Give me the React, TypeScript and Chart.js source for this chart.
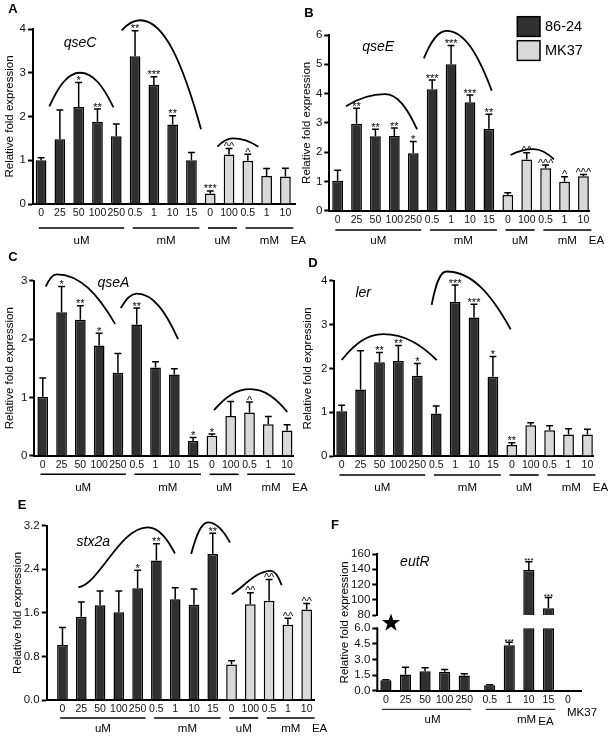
import React, { useEffect, useRef } from 'react';
import { Chart, registerables } from 'chart.js';

Chart.register(...registerables);

const FONT = '"Liberation Sans", Arial, Helvetica, sans-serif';
Chart.defaults.font.family = FONT;
Chart.defaults.color = '#111';

const DARK = '#303030';
const LIGHT = '#d9d9d9';
const INK = '#000';

// ---------------- data ----------------
const SERIES = ['86-24', 'MK37'];
const Y_TITLE = 'Relative fold expression';
const CATS_WT = ['0', '25', '50', '100', '250', '0.5', '1', '10', '15'];
const CATS_MK = ['0', '100', '0.5', '1', '10'];
const GROUPS = [
  { label: 'uM', from: 0, to: 4 },
  { label: 'mM', from: 5, to: 8 },
  { label: 'uM', from: 9, to: 10 },
  { label: 'mM', from: 11, to: 13 },
];
const END_LABEL = 'EA';

// A  qseC
const A_GENE = 'qseC';
const A_WT = [1.0, 1.48, 2.22, 1.88, 1.55, 3.38, 2.72, 1.82, 1.0];
const A_WT_ERR = [0.06, 0.67, 0.56, 0.29, 0.28, 0.58, 0.19, 0.2, 0.18];
const A_WT_SIG = ['', '', '*', '**', '', '**', '***', '**', ''];
const A_MK = [0.24, 1.13, 0.99, 0.64, 0.63];
const A_MK_ERR = [0.06, 0.14, 0.15, 0.17, 0.19];
const A_MK_SIG = ['***', '^^', '^', '', ''];
const A_Y_TICKS = [0, 1, 2, 3, 4];
const A_CURVES = [[0.44, 2.23, 2.07, 3.0, 3.85, 2.21, 0.6], [4.29, 3.97, 5.27, 4.2, 8.51, 1.71, 0.6], [9.38, 1.31, 10.21, 1.5, 11.56, 1.31, 0.6]];
const A_GENE_AT = [2.07, 3.68];

// B  qseE
const B_GENE = 'qseE';
const B_WT = [1.02, 2.97, 2.54, 2.55, 1.96, 4.15, 5.0, 3.7, 2.8];
const B_WT_ERR = [0.36, 0.53, 0.24, 0.27, 0.4, 0.31, 0.64, 0.25, 0.49];
const B_WT_SIG = ['', '**', '**', '**', '*', '***', '***', '***', '**'];
const B_MK = [0.54, 1.75, 1.45, 0.99, 1.18];
const B_MK_ERR = [0.07, 0.23, 0.11, 0.17, 0.06];
const B_MK_SIG = ['', '^^', '^^^', '^', '^^^'];
const B_Y_TICKS = [0, 1, 2, 3, 4, 5, 6];
const B_CURVES = [[0.44, 3.57, 2.5, 3.98, 4.2, 2.78, 0.6], [4.56, 5.2, 5.76, 6.14, 8.15, 4.1, 0.6], [9.15, 1.9, 10.35, 2.1, 11.44, 1.75, 0.6]];
const B_GENE_AT = [2.14, 5.6];

// C  qseA
const C_GENE = 'qseA';
const C_WT = [1.01, 2.46, 2.33, 1.89, 1.42, 2.25, 1.51, 1.39, 0.25];
const C_WT_ERR = [0.32, 0.44, 0.24, 0.21, 0.33, 0.28, 0.1, 0.1, 0.06];
const C_WT_SIG = ['', '*', '**', '*', '', '**', '', '', '*'];
const C_MK = [0.34, 0.68, 0.74, 0.54, 0.43];
const C_MK_ERR = [0.03, 0.25, 0.18, 0.13, 0.1];
const C_MK_SIG = ['*', '', '^', '', ''];
const C_Y_TICKS = [0, 1, 2, 3];
const C_CURVES = [[0.16, 2.9, 0.74, 3.11, 3.85, 2.26, 0.6], [4.15, 2.53, 5.0, 2.78, 7.2, 2.0, 0.6], [9.11, 0.78, 11.03, 1.14, 13.01, 0.75, 0.6]];
const C_GENE_AT = [3.76, 2.96];

// D  ler
const D_GENE = 'ler';
const D_WT = [1.02, 1.52, 2.14, 2.17, 1.83, 0.97, 3.52, 3.16, 1.81];
const D_WT_ERR = [0.14, 0.88, 0.22, 0.35, 0.28, 0.17, 0.38, 0.3, 0.46];
const D_WT_SIG = ['', '', '**', '**', '*', '', '***', '***', '*'];
const D_MK = [0.25, 0.7, 0.59, 0.49, 0.49];
const D_MK_ERR = [0.05, 0.06, 0.1, 0.13, 0.12];
const D_MK_SIG = ['**', '', '', '', ''];
const D_Y_TICKS = [0, 1, 2, 3, 4];
const D_CURVES = [[0.0, 2.19, 2.2, 2.78, 5.03, 2.19, 0.6], [4.76, 3.45, 5.55, 4.21, 8.94, 2.89, 0.7]];
const D_GENE_AT = [1.14, 3.71];

// E  stx2a
const E_GENE = 'stx2a';
const E_WT = [1.01, 1.53, 1.74, 1.61, 2.05, 2.56, 1.85, 1.75, 2.68];
const E_WT_ERR = [0.32, 0.27, 0.26, 0.39, 0.33, 0.31, 0.21, 0.29, 0.38];
const E_WT_SIG = ['', '', '', '', '*', '**', '', '', '**'];
const E_MK = [0.65, 1.76, 1.82, 1.38, 1.66];
const E_MK_ERR = [0.07, 0.21, 0.39, 0.12, 0.11];
const E_MK_SIG = ['', '^^', '^^', '^^', '^^'];
const E_Y_TICKS = [0, 0.8, 1.6, 2.4, 3.2];
const E_CURVES = [[0.85, 2.07, 4.53, 3.17, 5.99, 2.69, 0.05], [6.85, 2.68, 7.75, 3.26, 8.92, 2.89, 0.6], [9.01, 1.94, 11.1, 2.37, 11.67, 2.11, 0.3]];
const E_GENE_AT = [1.64, 2.9];

// F  eutR (broken axis)
const F_GENE = 'eutR';
const F_CATS_WT = ['0', '25', '50', '100', '250', '0.5', '1', '10', '15'];
const F_CATS_MK = ['0'];
const F_WT = [1.0, 1.55, 1.88, 1.82, 1.45, 0.52, 4.37, 139, 89];
const F_WT_ERR = [0.05, 0.7, 0.33, 0.23, 0.18, 0.06, 0.3, 11, 14];
const F_WT_SIG = ['', '', '', '', '', '', '***', '***', '***'];
const F_MK = [0];
const F_LOW_TICKS = [0, 1.5, 3, 4.5, 6];
const F_HIGH_TICKS = [80, 100, 120, 140, 160];
const F_GROUPS = [
  { label: 'uM', from: 0, to: 4 },
  { label: 'mM', from: 5, to: 8 },
];
const F_MK_LABEL = 'MK37';
const F_GENE_AT = [1.48, 150];

// ---------------- layout (page px) ----------------
const Y_W = 30;
const X_H = 24;
const LAYOUT: any = {
  A: { cx: 0, cy: 0, cw: 320, ch: 248, l: 33, t: 29, r: 295, b: 204, xMin: -0.43, xMax: 13.51, letter: [13, 9], titleX: 10, lineY: 228, unitY: 240.5 },
  B: { cx: 290, cy: 0, cw: 318, ch: 250, l: 329.3, t: 35, r: 589.3, b: 210.7, xMin: -0.44, xMax: 13.31, letter: [309, 13], titleX: 306.7, lineY: 230, unitY: 241 },
  C: { cx: 0, cy: 245, cw: 320, ch: 250, l: 34.3, t: 280.7, r: 293.3, b: 455.7, xMin: -0.45, xMax: 13.33, letter: [13, 257], titleX: 10, lineY: 474.3, unitY: 488 },
  D: { cx: 290, cy: 245, cw: 318, ch: 250, l: 334.3, t: 280.7, r: 593.3, b: 456, xMin: -0.39, xMax: 13.31, letter: [313, 263], titleX: 308.3, lineY: 475, unitY: 488 },
  E: { cx: 0, cy: 492, cw: 340, ch: 246, l: 46.7, t: 525.7, r: 314, b: 700, xMin: -0.84, xMax: 13.39, letter: [22, 505], titleX: 18.3, lineY: 718, unitY: 728.5 },
};
const LAYOUT_F = {
  cx: 300, cy: 500, cw: 308, ch: 238, l: 377.3, t: 554, r: 581.7, b: 690.7, brk: 615, lowTopPx: 628.3,
  xMin: -0.44, xMax: 10.0, gapAfter: 5, gap: 0.3,
  letter: [335, 525], titleX: 345, lineY: 709.3, unitY: 719.5, ea: [546, 722], mk: [582, 713], star: [391, 623],
};
const LEGEND_B = { x: 517.3, y: [16.7, 40.7], w: 22.7, h: 19.7, textX: 545 };
const GROUP_EXT = [-0.12, 0.42];

// ---------------- helpers ----------------
function font(size: number, style = '', weight = '') {
  return `${style} ${weight} ${size}px ${FONT}`.trim();
}

function text(ctx: any, s: string, x: number, y: number, f: string, align = 'center', base = 'middle') {
  ctx.save();
  ctx.font = f;
  ctx.fillStyle = INK;
  ctx.textAlign = align;
  ctx.textBaseline = base;
  ctx.fillText(s, x, y);
  ctx.restore();
}

function drawCurve(ctx: any, xs: any, ys: any, c: number[]) {
  const S = { x: xs.getPixelForValue(c[0]), y: ys.getPixelForValue(c[1]) };
  const P = { x: xs.getPixelForValue(c[2]), y: ys.getPixelForValue(c[3]) };
  const E = { x: xs.getPixelForValue(c[4]), y: ys.getPixelForValue(c[5]) };
  const k = c[6] ?? 0.6;
  const dx = P.x - S.x, dy = P.y - S.y;
  const fx = E.x - P.x, fy = E.y - P.y;
  ctx.save();
  ctx.strokeStyle = INK;
  ctx.lineWidth = 1.8;
  ctx.beginPath();
  ctx.moveTo(S.x, S.y);
  ctx.bezierCurveTo(S.x + dx * 0.3, S.y + dy * k, P.x - dx * 0.4, P.y, P.x, P.y);
  ctx.bezierCurveTo(P.x + fx * 0.4, P.y, E.x - fx * 0.3, E.y - fy * 0.6, E.x, E.y);
  ctx.stroke();
  ctx.restore();
}

function drawErr(ctx: any, x: number, w: number, yTop: number, yErr: number, sig: string, sigSize: number) {
  ctx.save();
  ctx.strokeStyle = INK;
  ctx.lineWidth = 1.5;
  ctx.beginPath();
  ctx.moveTo(x, yTop);
  ctx.lineTo(x, yErr);
  ctx.moveTo(x - w * 0.32, yErr);
  ctx.lineTo(x + w * 0.32, yErr);
  ctx.stroke();
  ctx.restore();
  if (sig) text(ctx, sig, x, yErr + 1.5, font(sigSize), 'center', 'alphabetic');
}

function yTitle(ctx: any, x: number, yc: number) {
  ctx.save();
  ctx.translate(x, yc);
  ctx.rotate(-Math.PI / 2);
  text(ctx, Y_TITLE, 0, 0, font(11.5));
  ctx.restore();
}

function barStyle(color: string) {
  return { backgroundColor: color, borderColor: INK, borderWidth: 1.5, grouped: false, barPercentage: 0.57, categoryPercentage: 1 };
}

function yAxis(ticks: number[], decimals: number, extra: any = {}) {
  return {
    type: 'linear',
    min: ticks[0],
    max: ticks[ticks.length - 1],
    afterBuildTicks: (s: any) => { s.ticks = ticks.map((v) => ({ value: v })); },
    afterFit: (s: any) => { s.width = Y_W; s.paddingTop = 0; s.paddingBottom = 0; },
    ticks: { autoSkip: false, color: '#111', padding: 2, font: { size: 11.5 }, callback: (v: any) => Number(v).toFixed(decimals) },
    grid: { display: true, drawOnChartArea: false, drawTicks: true, tickLength: 5, tickWidth: 2, tickColor: INK },
    border: { display: true, color: INK, width: 2 },
    ...extra,
  };
}

function xAxis(labels: string[], pos: number[], xMin: number, xMax: number) {
  return {
    type: 'linear',
    min: xMin,
    max: xMax,
    offset: false,
    z: 1,
    afterBuildTicks: (s: any) => { s.ticks = pos.map((v) => ({ value: v })); },
    afterFit: (s: any) => { s.height = X_H; s.paddingLeft = 0; s.paddingRight = 0; },
    ticks: { autoSkip: false, maxRotation: 0, minRotation: 0, padding: 3, color: '#111', font: { size: 10.5 }, callback: (_v: any, i: number) => labels[i] },
    grid: { display: false, drawTicks: false },
    border: { display: true, color: INK, width: 2 },
  };
}

// ---------------- standard panels ----------------
function buildPanel(p: any) {
  const L = LAYOUT[p.letter];
  const labels = [...CATS_WT, ...CATS_MK];
  const pos = labels.map((_, i) => i);
  const n = CATS_WT.length;
  const padding = { left: L.l - L.cx - Y_W, top: L.t - L.cy, right: L.cx + L.cw - L.r, bottom: L.cy + L.ch - L.b - X_H };
  const decor = {
    id: 'decor' + p.letter,
    afterDatasetsDraw(chart: any) {
      const ctx = chart.ctx;
      const ys = chart.scales.y;
      const sets = [[p.wt, p.wtErr, p.wtSig], [p.mk, p.mkErr, p.mkSig]];
      sets.forEach(([vals, errs, sigs]: any, di: number) => {
        chart.getDatasetMeta(di).data.forEach((bar: any, i: number) => {
          drawErr(ctx, bar.x, bar.width, ys.getPixelForValue(vals[i]), ys.getPixelForValue(vals[i] + errs[i]), sigs[i], 11);
        });
      });
    },
    afterDraw(chart: any) {
      const ctx = chart.ctx;
      const xs = chart.scales.x, ys = chart.scales.y;
      const ca = chart.chartArea;
      p.curves.forEach((c: number[]) => drawCurve(ctx, xs, ys, c));
      text(ctx, p.gene, xs.getPixelForValue(p.geneAt[0]), ys.getPixelForValue(p.geneAt[1]), font(14, 'italic'));
      let lastEnd = 0;
      ctx.save();
      ctx.strokeStyle = INK;
      ctx.lineWidth = 1.6;
      GROUPS.forEach((g) => {
        const x0 = xs.getPixelForValue(g.from + GROUP_EXT[0]);
        const x1 = xs.getPixelForValue(g.to + GROUP_EXT[1]);
        ctx.beginPath();
        ctx.moveTo(x0, L.lineY - L.cy);
        ctx.lineTo(x1, L.lineY - L.cy);
        ctx.stroke();
        text(ctx, g.label, (x0 + x1) / 2, L.unitY - L.cy, font(11.5));
        lastEnd = x1;
      });
      ctx.restore();
      text(ctx, END_LABEL, lastEnd + 5, L.unitY - L.cy, font(11.5));
      text(ctx, p.letter, L.letter[0] - L.cx, L.letter[1] - L.cy, font(13, '', 'bold'));
      yTitle(ctx, L.titleX - L.cx, (ca.top + ca.bottom) / 2);
      if (p.legend) {
        const cols = [DARK, LIGHT];
        SERIES.forEach((s, i) => {
          const bx = LEGEND_B.x - L.cx, by = LEGEND_B.y[i] - L.cy;
          ctx.save();
          ctx.fillStyle = cols[i];
          ctx.fillRect(bx, by, LEGEND_B.w, LEGEND_B.h);
          ctx.strokeStyle = INK;
          ctx.lineWidth = 1.5;
          ctx.strokeRect(bx, by, LEGEND_B.w, LEGEND_B.h);
          ctx.restore();
          text(ctx, s, LEGEND_B.textX - L.cx, by + LEGEND_B.h / 2, font(14.5), 'left');
        });
      }
    },
  };
  return {
    type: 'bar',
    data: {
      datasets: [
        { label: SERIES[0], data: p.wt.map((v: number, i: number) => ({ x: pos[i], y: v })), ...barStyle(DARK) },
        { label: SERIES[1], data: p.mk.map((v: number, i: number) => ({ x: pos[n + i], y: v })), ...barStyle(LIGHT) },
      ],
    },
    options: {
      responsive: false,
      animation: false,
      layout: { padding },
      plugins: { legend: { display: false }, tooltip: { enabled: false } },
      scales: { x: xAxis(labels, pos, L.xMin, L.xMax), y: yAxis(p.yTicks, p.dec) },
    },
    plugins: [decor],
  };
}

// ---------------- panel F ----------------
function buildF() {
  const L = LAYOUT_F;
  const labels = [...F_CATS_WT, ...F_CATS_MK];
  const pos = labels.map((_, i) => i + (i >= L.gapAfter ? L.gap : 0));
  const n = F_CATS_WT.length;
  const lowTop = F_LOW_TICKS[F_LOW_TICKS.length - 1];
  const highMin = F_HIGH_TICKS[0];
  const lowMax = lowTop * (L.b - L.brk) / (L.b - L.lowTopPx);
  const padding = { left: L.l - L.cx - Y_W, top: L.t - L.cy, right: L.cx + L.cw - L.r, bottom: L.cy + L.ch - L.b - X_H };
  const decor = {
    id: 'decorF',
    afterDatasetsDraw(chart: any) {
      const ctx = chart.ctx;
      const lo = chart.scales.yLow, hi = chart.scales.yHigh;
      chart.getDatasetMeta(0).data.forEach((bar: any, i: number) => {
        const v = F_WT[i];
        const ax = v > highMin ? hi : lo;
        drawErr(ctx, bar.x, bar.width, ax.getPixelForValue(v), ax.getPixelForValue(v + F_WT_ERR[i]), F_WT_SIG[i], 8);
      });
    },
    afterDraw(chart: any) {
      const ctx = chart.ctx;
      const xs = chart.scales.x, lo = chart.scales.yLow, hi = chart.scales.yHigh;
      const ca = chart.chartArea;
      ctx.save();
      ctx.strokeStyle = INK;
      ctx.lineWidth = 2;
      ctx.beginPath();
      ctx.moveTo(ca.left, lo.getPixelForValue(0) + 1);
      ctx.lineTo(ca.left, lo.getPixelForValue(lowTop) - 1);
      ctx.stroke();
      ctx.restore();
      const sx = L.star[0] - L.cx, sy = L.star[1] - L.cy;
      ctx.save();
      ctx.fillStyle = INK;
      ctx.beginPath();
      for (let k = 0; k < 10; k++) {
        const r = k % 2 === 0 ? 9.5 : 3.8;
        const a = -Math.PI / 2 + (k * Math.PI) / 5;
        const px = sx + r * Math.cos(a), py = sy + r * Math.sin(a);
        if (k === 0) ctx.moveTo(px, py); else ctx.lineTo(px, py);
      }
      ctx.closePath();
      ctx.fill();
      ctx.restore();
      text(ctx, F_GENE, xs.getPixelForValue(F_GENE_AT[0]), hi.getPixelForValue(F_GENE_AT[1]), font(14, 'italic'));
      ctx.save();
      ctx.strokeStyle = INK;
      ctx.lineWidth = 1;
      F_GROUPS.forEach((g) => {
        const x0 = xs.getPixelForValue(pos[g.from] - 0.2);
        const x1 = xs.getPixelForValue(pos[g.to] + 0.35);
        ctx.beginPath();
        ctx.moveTo(x0, L.lineY - L.cy);
        ctx.lineTo(x1, L.lineY - L.cy);
        ctx.stroke();
        text(ctx, g.label, (x0 + x1) / 2 + 6, L.unitY - L.cy, font(11.5));
      });
      ctx.restore();
      text(ctx, END_LABEL, L.ea[0] - L.cx, L.ea[1] - L.cy, font(11.5));
      text(ctx, F_MK_LABEL, L.mk[0] - L.cx, L.mk[1] - L.cy, font(11.5));
      text(ctx, 'F', L.letter[0] - L.cx, L.letter[1] - L.cy, font(13, '', 'bold'));
      yTitle(ctx, L.titleX - L.cx, (ca.top + ca.bottom) / 2);
    },
  };
  return {
    type: 'bar',
    data: {
      datasets: [
        { label: SERIES[0], yAxisID: 'yLow', data: F_WT.map((v, i) => ({ x: pos[i], y: Math.min(v, lowTop) })), ...barStyle(DARK) },
        { label: SERIES[0], yAxisID: 'yHigh', data: F_WT.map((v, i) => (v > highMin ? { x: pos[i], y: [highMin, v] } : null)).filter(Boolean), ...barStyle(DARK) },
        { label: SERIES[1], yAxisID: 'yLow', data: F_MK.map((v, i) => ({ x: pos[n + i], y: v })), ...barStyle(LIGHT) },
      ],
    },
    options: {
      responsive: false,
      animation: false,
      layout: { padding },
      plugins: { legend: { display: false }, tooltip: { enabled: false } },
      scales: {
        x: xAxis(labels, pos, L.xMin, L.xMax),
        yLow: yAxis(F_LOW_TICKS, 1, { position: 'left', stack: 'f', stackWeight: L.b - L.brk, max: lowMax, border: { display: false } }),
        yHigh: yAxis(F_HIGH_TICKS, 0, { position: 'left', stack: 'f', stackWeight: L.brk - L.t }),
      },
    },
    plugins: [decor],
  };
}

const PANELS = [
  { letter: 'A', gene: A_GENE, wt: A_WT, wtErr: A_WT_ERR, wtSig: A_WT_SIG, mk: A_MK, mkErr: A_MK_ERR, mkSig: A_MK_SIG, yTicks: A_Y_TICKS, dec: 0, curves: A_CURVES, geneAt: A_GENE_AT },
  { letter: 'B', gene: B_GENE, wt: B_WT, wtErr: B_WT_ERR, wtSig: B_WT_SIG, mk: B_MK, mkErr: B_MK_ERR, mkSig: B_MK_SIG, yTicks: B_Y_TICKS, dec: 0, curves: B_CURVES, geneAt: B_GENE_AT, legend: true },
  { letter: 'C', gene: C_GENE, wt: C_WT, wtErr: C_WT_ERR, wtSig: C_WT_SIG, mk: C_MK, mkErr: C_MK_ERR, mkSig: C_MK_SIG, yTicks: C_Y_TICKS, dec: 0, curves: C_CURVES, geneAt: C_GENE_AT },
  { letter: 'D', gene: D_GENE, wt: D_WT, wtErr: D_WT_ERR, wtSig: D_WT_SIG, mk: D_MK, mkErr: D_MK_ERR, mkSig: D_MK_SIG, yTicks: D_Y_TICKS, dec: 0, curves: D_CURVES, geneAt: D_GENE_AT },
  { letter: 'E', gene: E_GENE, wt: E_WT, wtErr: E_WT_ERR, wtSig: E_WT_SIG, mk: E_MK, mkErr: E_MK_ERR, mkSig: E_MK_SIG, yTicks: E_Y_TICKS, dec: 1, curves: E_CURVES, geneAt: E_GENE_AT },
];

function ChartCanvas({ box, build }: any) {
  const ref = useRef<HTMLCanvasElement>(null);
  useEffect(() => {
    const chart = new Chart(ref.current as HTMLCanvasElement, build() as any);
    return () => chart.destroy();
  }, []);
  return (
    <canvas
      ref={ref}
      width={box.cw}
      height={box.ch}
      style={{ position: 'absolute', left: box.cx, top: box.cy, width: box.cw, height: box.ch }}
    />
  );
}

export default function App() {
  return (
    <div style={{ position: 'absolute', left: 0, top: 0, width: 608, height: 738, background: '#fff', overflow: 'hidden' }}>
      {PANELS.map((p) => (
        <ChartCanvas key={p.letter} box={LAYOUT[p.letter]} build={() => buildPanel(p)} />
      ))}
      <ChartCanvas key="F" box={LAYOUT_F} build={buildF} />
    </div>
  );
}
